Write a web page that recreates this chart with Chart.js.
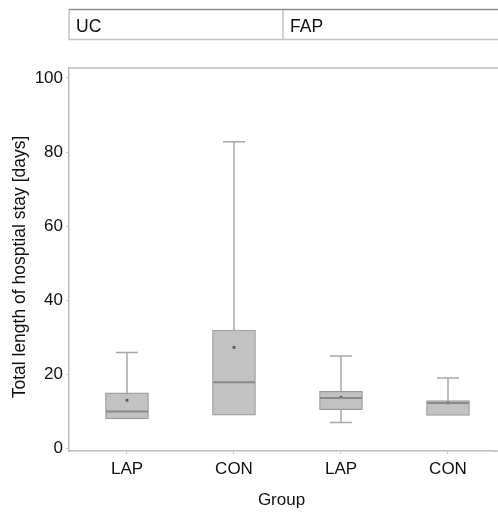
<!DOCTYPE html>
<html>
<head>
<meta charset="utf-8">
<script src="https://cdn.jsdelivr.net/npm/chart.js@4.4.1/dist/chart.umd.min.js"></script>
<style>
  html, body { margin: 0; padding: 0; background: #fff; overflow: hidden; }
  #wrap { width: 498px; height: 515px; }
</style>
</head>
<body>
<div id="wrap"><canvas id="boxChart" width="498" height="515"></canvas></div>
<script>
// values
const groups = ['LAP', 'CON', 'LAP', 'CON'];
const panels = ['UC', 'FAP'];
const whiskerLow = [7.9, 8.9, 6.9, 8.8];
const q1 = [7.9, 8.9, 10.4, 8.8];
const median = [9.9, 17.8, 13.5, 12.2];
const q3 = [14.9, 31.9, 15.3, 12.8];
const whiskerHigh = [25.8, 82.8, 24.9, 18.9];
const means = [12.9, 27.2, 13.7, 12.2];
const yTicks = [0, 20, 40, 60, 80, 100];

const FONT = 'Liberation Sans';

// whiskers, medians and the facet strip on top
const boxExtras = {
  id: 'boxExtras',
  beforeDatasetsDraw(chart) {
    const ctx = chart.ctx;
    const x = chart.scales.x, y = chart.scales.y;
    ctx.save();
    ctx.strokeStyle = '#a8a8a8';
    ctx.lineWidth = 1.5;
    groups.forEach((g, i) => {
      const px = x.getPixelForValue(i + 1);
      const segs = [[q3[i], whiskerHigh[i]], [q1[i], whiskerLow[i]]];
      segs.forEach(([from, to]) => {
        if (from === to) return;
        ctx.beginPath();
        ctx.moveTo(px, y.getPixelForValue(from));
        ctx.lineTo(px, y.getPixelForValue(to));
        ctx.moveTo(px - 11, y.getPixelForValue(to));
        ctx.lineTo(px + 11, y.getPixelForValue(to));
        ctx.stroke();
      });
    });
    ctx.restore();
  },
  afterDatasetsDraw(chart) {
    const ctx = chart.ctx;
    const x = chart.scales.x, y = chart.scales.y;
    ctx.save();
    ctx.strokeStyle = '#8a8a8a';
    ctx.lineWidth = 2;
    groups.forEach((g, i) => {
      const px = x.getPixelForValue(i + 1);
      const py = y.getPixelForValue(median[i]);
      ctx.beginPath();
      ctx.moveTo(px - 21, py);
      ctx.lineTo(px + 21, py);
      ctx.stroke();
    });
    ctx.restore();
  },
  afterDraw(chart) {
    const ctx = chart.ctx;
    const area = chart.chartArea;
    const x = chart.scales.x;
    ctx.save();
    // top frame line of the plot, bottom axis carried to the edge
    ctx.strokeStyle = '#bdbdbd';
    ctx.lineWidth = 1.5;
    ctx.beginPath();
    ctx.moveTo(area.left, area.top);
    ctx.lineTo(chart.width, area.top);
    ctx.moveTo(area.right - 1, area.bottom);
    ctx.lineTo(chart.width, area.bottom);
    ctx.stroke();

    // facet strip
    const top = 9.5, bottom = 39.5;
    const split = x.getPixelForValue(2.458);
    ctx.strokeStyle = '#c4c4c4';
    ctx.lineWidth = 1.5;
    ctx.beginPath();
    ctx.moveTo(area.left, top);
    ctx.lineTo(area.left, bottom);
    ctx.lineTo(chart.width, bottom);
    ctx.moveTo(split, top);
    ctx.lineTo(split, bottom);
    ctx.stroke();
    ctx.strokeStyle = '#8c8c8c';
    ctx.beginPath();
    ctx.moveTo(area.left, top);
    ctx.lineTo(chart.width, top);
    ctx.stroke();

    ctx.fillStyle = '#111';
    ctx.font = '17.5px "' + FONT + '"';
    ctx.textBaseline = 'middle';
    ctx.textAlign = 'left';
    ctx.fillText(panels[0], area.left + 7, 27);
    ctx.fillText(panels[1], split + 7, 27);

    // y axis title
    ctx.translate(20, 267);
    ctx.rotate(-Math.PI / 2);
    ctx.textAlign = 'center';
    ctx.fillText('Total length of hosptial stay [days]', 0, 0);
    ctx.restore();
  }
};

const ctx = document.getElementById('boxChart').getContext('2d');
const chart = new Chart(ctx, {
  type: 'bar',
  data: {
    datasets: [{
      label: 'box',
      data: groups.map((g, i) => ({ x: i + 1, y: [q1[i], q3[i]] })),
      backgroundColor: '#c2c2c2',
      borderColor: '#9a9a9a',
      borderWidth: 1.2,
      borderSkipped: false,
      barThickness: 43,
      order: 2
    }, {
      type: 'line',
      label: 'mean',
      data: groups.map((g, i) => ({ x: i + 1, y: means[i] })),
      showLine: false,
      pointStyle: 'rect',
      pointRadius: 2,
      pointBackgroundColor: '#5a5a5a',
      pointBorderWidth: 0,
      order: 1
    }]
  },
  options: {
    responsive: false,
    animation: false,
    layout: { padding: { top: 68, right: 0, bottom: 0, left: 0 } },
    plugins: {
      legend: { display: false },
      tooltip: { enabled: false }
    },
    scales: {
      x: {
        type: 'linear',
        offset: false,
        min: 0.458,
        max: 4.43,
        afterBuildTicks: (s) => { s.ticks = groups.map((g, i) => ({ value: i + 1 })); },
        afterFit: (s) => { s.height = 64; },
        ticks: {
          autoSkip: false,
          maxRotation: 0,
          padding: 5,
          color: '#111',
          font: { family: FONT, size: 17 },
          callback: (v) => groups[v - 1]
        },
        grid: { offset: false, drawOnChartArea: false, tickLength: 3, color: '#c8c8c8', lineWidth: 1 },
        border: { color: '#bdbdbd', width: 1.5 },
        title: {
          display: true,
          text: 'Group',
          color: '#111',
          font: { family: FONT, size: 17 },
          padding: { top: 0, bottom: 4 }
        }
      },
      y: {
        min: -0.8,
        max: 102.7,
        afterBuildTicks: (s) => { s.ticks = yTicks.map(v => ({ value: v })); },
        afterFit: (s) => { s.width = 69; },
        ticks: {
          padding: 3,
          color: '#111',
          font: { family: FONT, size: 17 }
        },
        grid: { drawOnChartArea: false, tickLength: 3, color: '#c8c8c8', lineWidth: 1 },
        border: { color: '#bdbdbd', width: 1.5 }
      }
    }
  },
  plugins: [boxExtras]
});
</script>
</body>
</html>
